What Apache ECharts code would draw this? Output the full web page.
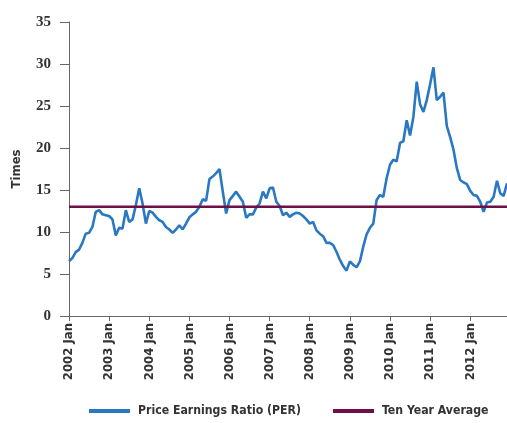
<!DOCTYPE html>
<html>
<head>
<meta charset="utf-8">
<script src="https://cdn.jsdelivr.net/npm/echarts@6/dist/echarts.min.js"></script>
<style>
    html, body { margin: 0; padding: 0; background: #fff; }
    #chart { width: 507px; height: 423px; }
</style>
</head>
<body>
<div id="chart"></div>
<script>
const years = ['2002', '2003', '2004', '2005', '2006', '2007', '2008', '2009', '2010', '2011', '2012'];
const monthNames = ['Jan', 'Feb', 'Mar', 'Apr', 'May', 'Jun', 'Jul', 'Aug', 'Sep', 'Oct', 'Nov', 'Dec'];

// monthly PER, 2002 Jan .. 2012 Dec
const perValues = [
    6.5, 6.9, 7.6, 7.9, 8.7, 9.8, 9.9, 10.6, 12.4, 12.6, 12.1, 12.0,
    11.9, 11.5, 9.6, 10.5, 10.4, 12.6, 11.2, 11.5, 13.2, 15.2, 13.4, 11.0,
    12.5, 12.3, 11.8, 11.4, 11.2, 10.6, 10.3, 9.9, 10.3, 10.8, 10.3, 11.0,
    11.75, 12.1, 12.4, 13.0, 13.9, 13.7, 16.3, 16.6, 17.0, 17.5, 14.8, 12.2,
    13.8, 14.3, 14.8, 14.2, 13.6, 11.7, 12.1, 12.1, 12.9, 13.4, 14.8, 14.0,
    15.2, 15.3, 13.6, 13.1, 12.0, 12.3, 11.8, 12.1, 12.3, 12.2, 11.9, 11.5,
    11.0, 11.2, 10.2, 9.8, 9.5, 8.7, 8.7, 8.45, 7.65, 6.7, 5.95, 5.4,
    6.5, 6.1, 5.8, 6.5, 8.25, 9.7, 10.5, 11.0, 13.8, 14.4, 14.2, 16.4,
    18.0, 18.6, 18.4, 20.6, 20.8, 23.3, 21.5, 23.7, 27.9, 25.2, 24.3, 25.7,
    27.6, 29.6, 25.7, 26.1, 26.6, 22.6, 21.3, 19.8, 17.6, 16.2, 15.9, 15.7,
    14.9, 14.4, 14.3, 13.6, 12.4, 13.5, 13.6, 14.2, 16.1, 14.6, 14.3, 15.8
];
const tenYearAverage = 13.0;

const yTicks = { min: 0, max: 35, interval: 5 };

const categories = [];
years.forEach(y => monthNames.forEach(m => categories.push(y + ' ' + m)));
const averageValues = categories.map(() => tenYearAverage);

const condensed = "'Liberation Sans Narrow', 'DejaVu Sans Condensed', sans-serif";

const chart = echarts.init(document.getElementById('chart'));

chart.setOption({
    animation: false,
    grid: { left: 69, right: 0, top: 22, bottom: 107, containLabel: false },
    legend: {
        top: 405,
        left: 89,
        padding: 0,
        itemWidth: 41,
        itemHeight: 4,
        itemGap: 32,
        icon: 'rect',
        textStyle: { fontFamily: condensed, fontWeight: 'bold', fontSize: 12.2, color: '#333', padding: [0, 0, 0, 3] },
        data: ['Price Earnings Ratio (PER)', 'Ten Year Average']
    },
    xAxis: {
        type: 'category',
        boundaryGap: false,
        data: categories,
        axisLine: { lineStyle: { color: '#666', width: 1 } },
        axisTick: { interval: 11, length: 5, lineStyle: { color: '#666' } },
        axisLabel: {
            interval: 11,
            rotate: 90,
            margin: 7,
            fontFamily: condensed,
            fontWeight: 'bold',
            fontSize: 13,
            color: '#333'
        },
        splitLine: { show: false }
    },
    yAxis: {
        type: 'value',
        min: yTicks.min,
        max: yTicks.max,
        interval: yTicks.interval,
        name: 'Times',
        nameLocation: 'middle',
        nameGap: 46,
        nameRotate: 90,
        nameTextStyle: { fontFamily: condensed, fontWeight: 'bold', fontSize: 13, color: '#333' },
        axisLine: { show: true, lineStyle: { color: '#666', width: 1 } },
        axisTick: { show: true, length: 9, lineStyle: { color: '#666' } },
        axisLabel: {
            margin: 18,
            fontFamily: "'Liberation Serif', 'DejaVu Serif', serif",
            fontWeight: 'bold',
            fontSize: 15,
            color: '#333'
        },
        splitLine: { show: false }
    },
    series: [
        {
            name: 'Price Earnings Ratio (PER)',
            type: 'line',
            data: perValues,
            symbol: 'none',
            lineStyle: { color: '#2a78c2', width: 2.6 },
            itemStyle: { color: '#2a78c2' },
            z: 2
        },
        {
            name: 'Ten Year Average',
            type: 'line',
            data: averageValues,
            symbol: 'none',
            lineStyle: { color: '#6e0f48', width: 2.6 },
            itemStyle: { color: '#6e0f48' },
            z: 3
        }
    ]
});
</script>
</body>
</html>
